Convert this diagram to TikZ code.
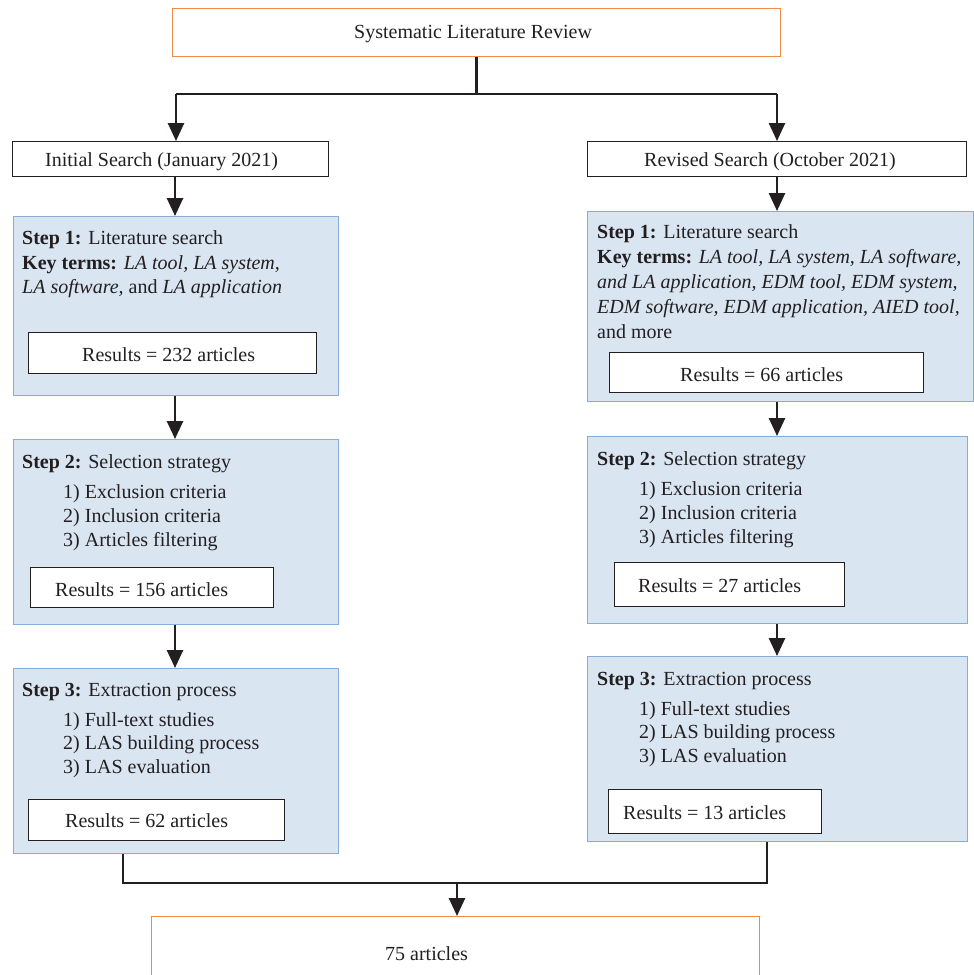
\documentclass[tikz,border=0pt]{standalone}
\usepackage{fontspec}
\setmainfont{Liberation Serif}
\usetikzlibrary{arrows.meta}
\definecolor{orangeb}{HTML}{F28A45}
\definecolor{bluefill}{HTML}{DAE5F2}
\definecolor{blueb}{HTML}{85ACDA}
\definecolor{ink}{HTML}{231F20}
\begin{document}
\begin{tikzpicture}[x=1pt,y=-1pt,
  txt/.style={anchor=base west,inner sep=0pt,font=\fontsize{20}{25}\selectfont,text=ink},
  obox/.style={draw=orangeb,line width=1.3pt,fill=white,anchor=north west,inner sep=0pt},
  wbox/.style={draw=ink,line width=1.3pt,fill=white,anchor=north west,inner sep=0pt},
  bbox/.style={draw=blueb,fill=bluefill,line width=1.1pt,anchor=north west,inner sep=0pt},
  arr/.style={draw=ink,line width=2.6pt,-{Triangle[length=18pt,width=16pt]}},
  thinline/.style={draw=ink,line width=1.2pt},
  thickline/.style={draw=ink,line width=2.6pt}]
\useasboundingbox (0,0) rectangle (974,975);
\fill[white] (0,0) rectangle (974,975);

% top box
\node[obox,minimum width=608pt,minimum height=48pt] (top) at (172,8) {};
\node[txt] (toptxt) at (354,38) {Systematic Literature Review};

% search boxes
\node[wbox,minimum width=316pt,minimum height=35pt] (init) at (12,141) {};
\node[txt] (inittxt) at (45,166) {Initial Search (January 2021)};
\node[wbox,minimum width=379pt,minimum height=35pt] (rev) at (587,141) {};
\node[txt] (revtxt) at (644,166) {Revised Search (October 2021)};

% left column
\node[bbox,minimum width=325pt,minimum height=179pt] (ls1) at (13,216) {};
\node[txt] (ls1a) at (22,244) {\textbf{Step 1:} Literature search};
\node[txt] (ls1b) at (22,269) {\textbf{Key terms:} \textit{LA tool, LA system,}};
\node[txt] (ls1c) at (22,293) {\textit{LA software,} and \textit{LA application}};
\node[wbox,minimum width=288pt,minimum height=41pt] (lr1) at (28,332) {};
\node[txt] (lr1t) at (82,361) {Results = 232 articles};

\node[bbox,minimum width=325pt,minimum height=185pt] (ls2) at (13,439) {};
\node[txt] (ls2a) at (22,468) {\textbf{Step 2:} Selection strategy};
\node[txt] (ls2b) at (63,498) {1) Exclusion criteria};
\node[txt] (ls2c) at (63,522) {2) Inclusion criteria};
\node[txt] (ls2d) at (63,546) {3) Articles filtering};
\node[wbox,minimum width=243pt,minimum height=40pt] (lr2) at (30,567) {};
\node[txt] (lr2t) at (55,596) {Results = 156 articles};

\node[bbox,minimum width=325pt,minimum height=185pt] (ls3) at (13,668) {};
\node[txt] (ls3a) at (22,696) {\textbf{Step 3:} Extraction process};
\node[txt] (ls3b) at (63,726) {1) Full-text studies};
\node[txt] (ls3c) at (63,749) {2) LAS building process};
\node[txt] (ls3d) at (63,773) {3) LAS evaluation};
\node[wbox,minimum width=256pt,minimum height=41pt] (lr3) at (28,799) {};
\node[txt] (lr3t) at (65,827) {Results = 62 articles};

% right column
\node[bbox,minimum width=386pt,minimum height=190pt] (rs1) at (587,211) {};
\node[txt] (rs1a) at (597,238) {\textbf{Step 1:} Literature search};
\node[txt] (rs1b) at (597,263) {\textbf{Key terms:} \textit{LA tool, LA system, LA software,}};
\node[txt] (rs1c) at (597,288) {\textit{and LA application, EDM tool, EDM system,}};
\node[txt] (rs1d) at (597,313) {\textit{EDM software, EDM application, AIED tool,}};
\node[txt] (rs1e) at (597,338) {and more};
\node[wbox,minimum width=314pt,minimum height=40pt] (rr1) at (609,352) {};
\node[txt] (rr1t) at (680,381) {Results = 66 articles};

\node[bbox,minimum width=380pt,minimum height=187pt] (rs2) at (587,436) {};
\node[txt] (rs2a) at (597,465) {\textbf{Step 2:} Selection strategy};
\node[txt] (rs2b) at (639,495) {1) Exclusion criteria};
\node[txt] (rs2c) at (639,519) {2) Inclusion criteria};
\node[txt] (rs2d) at (639,543) {3) Articles filtering};
\node[wbox,minimum width=230pt,minimum height=44pt] (rr2) at (614,562) {};
\node[txt] (rr2t) at (638,592) {Results = 27 articles};

\node[bbox,minimum width=380pt,minimum height=185pt] (rs3) at (587,656) {};
\node[txt] (rs3a) at (597,685) {\textbf{Step 3:} Extraction process};
\node[txt] (rs3b) at (639,715) {1) Full-text studies};
\node[txt] (rs3c) at (639,738) {2) LAS building process};
\node[txt] (rs3d) at (639,762) {3) LAS evaluation};
\node[wbox,minimum width=213pt,minimum height=44pt] (rr3) at (608,789) {};
\node[txt] (rr3t) at (623,819) {Results = 13 articles};

% final box (runs off the bottom edge)
\node[obox,minimum width=608pt,minimum height=90pt] (final) at (151,916) {};
\node[txt] (finaltxt) at (385,960) {75 articles};

% connectors
\coordinate (jl) at (176,94);
\coordinate (jr) at (777,94);
\draw[thickline] (top.south) -- (top.south |- jl);
\draw[thickline] (jl) -- (jr);
\draw[arr] (jl) -- (jl |- init.north);
\draw[arr] (jr) -- (jr |- rev.north);

\coordinate (cl) at (175,0);
\coordinate (cr) at (777,0);
\draw[arr] (cl |- init.south) -- (cl |- ls1.north);
\draw[arr] (cl |- ls1.south) -- (cl |- ls2.north);
\draw[arr] (cl |- ls2.south) -- (cl |- ls3.north);
\draw[arr] (cr |- rev.south) -- (cr |- rs1.north);
\draw[arr] (cr |- rs1.south) -- (cr |- rs2.north);
\draw[arr] (cr |- rs2.south) -- (cr |- rs3.north);

\coordinate (bl) at (123,883);
\coordinate (br) at (767,883);
\coordinate (bm) at (457,883);
\draw[thinline] (bl |- ls3.south) -- (bl) -- (br) -- (br |- rs3.south);
\draw[arr] (bm) -- (bm |- final.north);
\end{tikzpicture}
\end{document}
